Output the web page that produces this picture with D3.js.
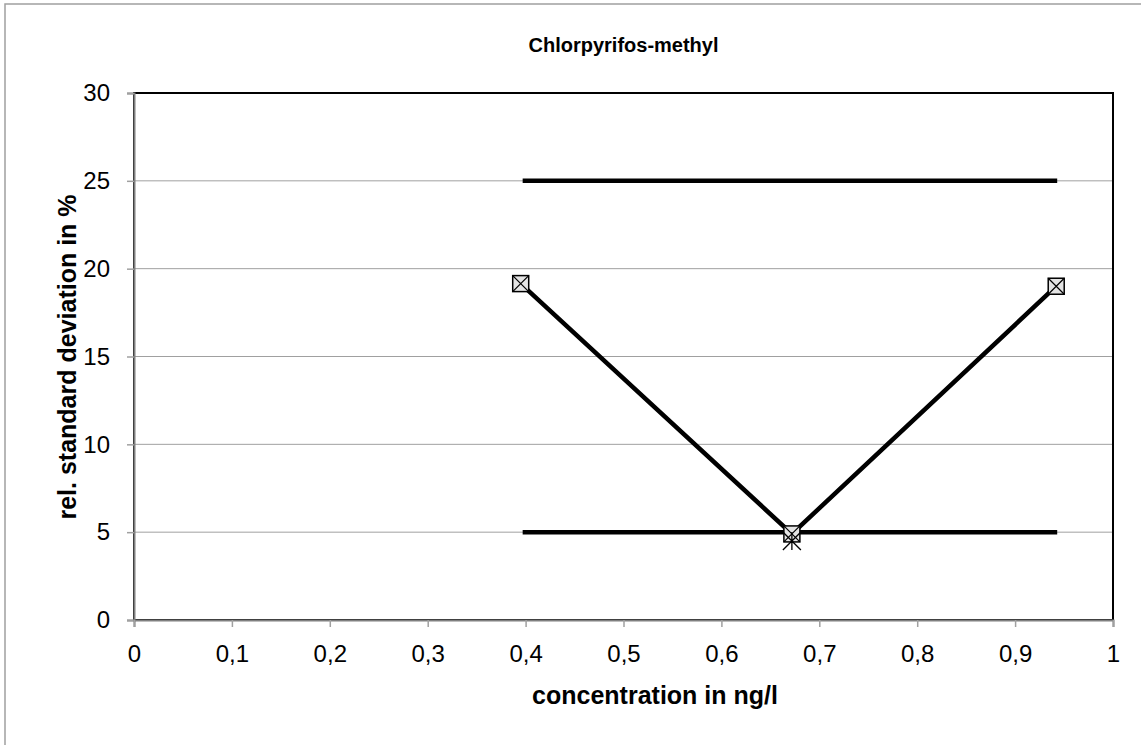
<!DOCTYPE html>
<html><head><meta charset="utf-8">
<script src="https://cdn.jsdelivr.net/npm/d3@7"></script>
<style>body{margin:0;background:#fff;} svg{display:block;}</style>
</head><body>
<svg id="c" width="1141" height="745"></svg>
<script>
const title = "Chlorpyrifos-methyl";
const xTitle = "concentration in ng/l";
const yTitle = "rel. standard deviation in %";
const xTicks = [0,0.1,0.2,0.3,0.4,0.5,0.6,0.7,0.8,0.9,1];
const yTicks = [0,5,10,15,20,25,30];
const rsdX = [0.395, 0.672, 0.942];
const rsdY = [19.15, 4.9, 19.0];
const starX = [0.672];
const starY = [4.5];
const upperX = [0.397, 0.943];
const upperY = [25, 25];
const lowerX = [0.397, 0.943];
const lowerY = [5, 5];

const svg = d3.select("#c");
const font = "Liberation Sans, Arial, sans-serif";
svg.append("rect").attr("x",5).attr("y",4).attr("width",1150).attr("height",760)
  .attr("fill","#fff").attr("stroke","#a0a0a0").attr("stroke-width",1.5);

const L=134, R=1113, T=93, B=620;
const x = d3.scaleLinear().domain([0,1]).range([L,R]);
const y = d3.scaleLinear().domain([0,30]).range([B,T]);

// grid
svg.append("g").selectAll("line").data(yTicks.filter(d=>d>0)).join("line")
  .attr("x1",L).attr("x2",R).attr("y1",d=>y(d)).attr("y2",d=>y(d))
  .attr("stroke","#a0a0a0").attr("stroke-width",1);

// plot border
svg.append("rect").attr("x",L).attr("y",T).attr("width",R-L).attr("height",B-T)
  .attr("fill","none").attr("stroke","#000").attr("stroke-width",2);

const fmt = d => String(d).replace(".", ",");
const yAxis = d3.axisLeft(y).tickValues(yTicks).tickSize(7).tickPadding(17).tickFormat(fmt);
const gy = svg.append("g").attr("transform",`translate(${L},0)`).call(yAxis);
const xAxis = d3.axisBottom(x).tickValues(xTicks).tickSize(7).tickPadding(18).tickFormat(fmt);
const gx = svg.append("g").attr("transform",`translate(0,${B})`).call(xAxis);
[gy,gx].forEach(g=>{
  g.select(".domain").attr("stroke","#808080").attr("stroke-width",2);
  g.selectAll(".tick line").attr("stroke","#a0a0a0").attr("stroke-width",1.5);
  g.selectAll("text").attr("font-family",font).attr("font-size",24).attr("fill","#000");
});

const line = d3.line().x(d=>x(d[0])).y(d=>y(d[1]));
const seg = (xs,ys) => xs.map((v,i)=>[v,ys[i]]);
[seg(upperX,upperY), seg(lowerX,lowerY), seg(rsdX,rsdY)].forEach(p=>{
  svg.append("path").attr("d",line(p)).attr("fill","none").attr("stroke","#000")
    .attr("stroke-width",4.5);
});

// square-with-X markers
const s = 8;
const mk = svg.append("g").selectAll("g").data(seg(rsdX,rsdY)).join("g")
  .attr("transform",d=>`translate(${x(d[0])},${y(d[1])})`);
mk.append("rect").attr("x",-s).attr("y",-s).attr("width",2*s).attr("height",2*s)
  .attr("fill","#e4e4e4").attr("stroke","#000").attr("stroke-width",1.5);
mk.append("path").attr("d",`M${-s},${-s}L${s},${s}M${s},${-s}L${-s},${s}`)
  .attr("stroke","#000").attr("stroke-width",1.2);

// asterisk marker
const a = 9;
const st = svg.append("g").selectAll("g").data(seg(starX,starY)).join("g")
  .attr("transform",d=>`translate(${x(d[0])},${y(d[1])})`);
st.append("path").attr("d",`M${-a},${-a}L${a},${a}M${a},${-a}L${-a},${a}M0,${-a}L0,${a}`)
  .attr("stroke","#000").attr("stroke-width",1.3);

svg.append("text").attr("x",(L+R)/2).attr("y",52).attr("text-anchor","middle")
  .attr("font-family",font).attr("font-weight","bold").attr("font-size",20).text(title);
svg.append("text").attr("x",655).attr("y",704).attr("text-anchor","middle")
  .attr("font-family",font).attr("font-weight","bold").attr("font-size",25).text(xTitle);
svg.append("text").attr("transform",`translate(76,357) rotate(-90)`).attr("text-anchor","middle")
  .attr("font-family",font).attr("font-weight","bold").attr("font-size",25).text(yTitle);
</script>
</body></html>
